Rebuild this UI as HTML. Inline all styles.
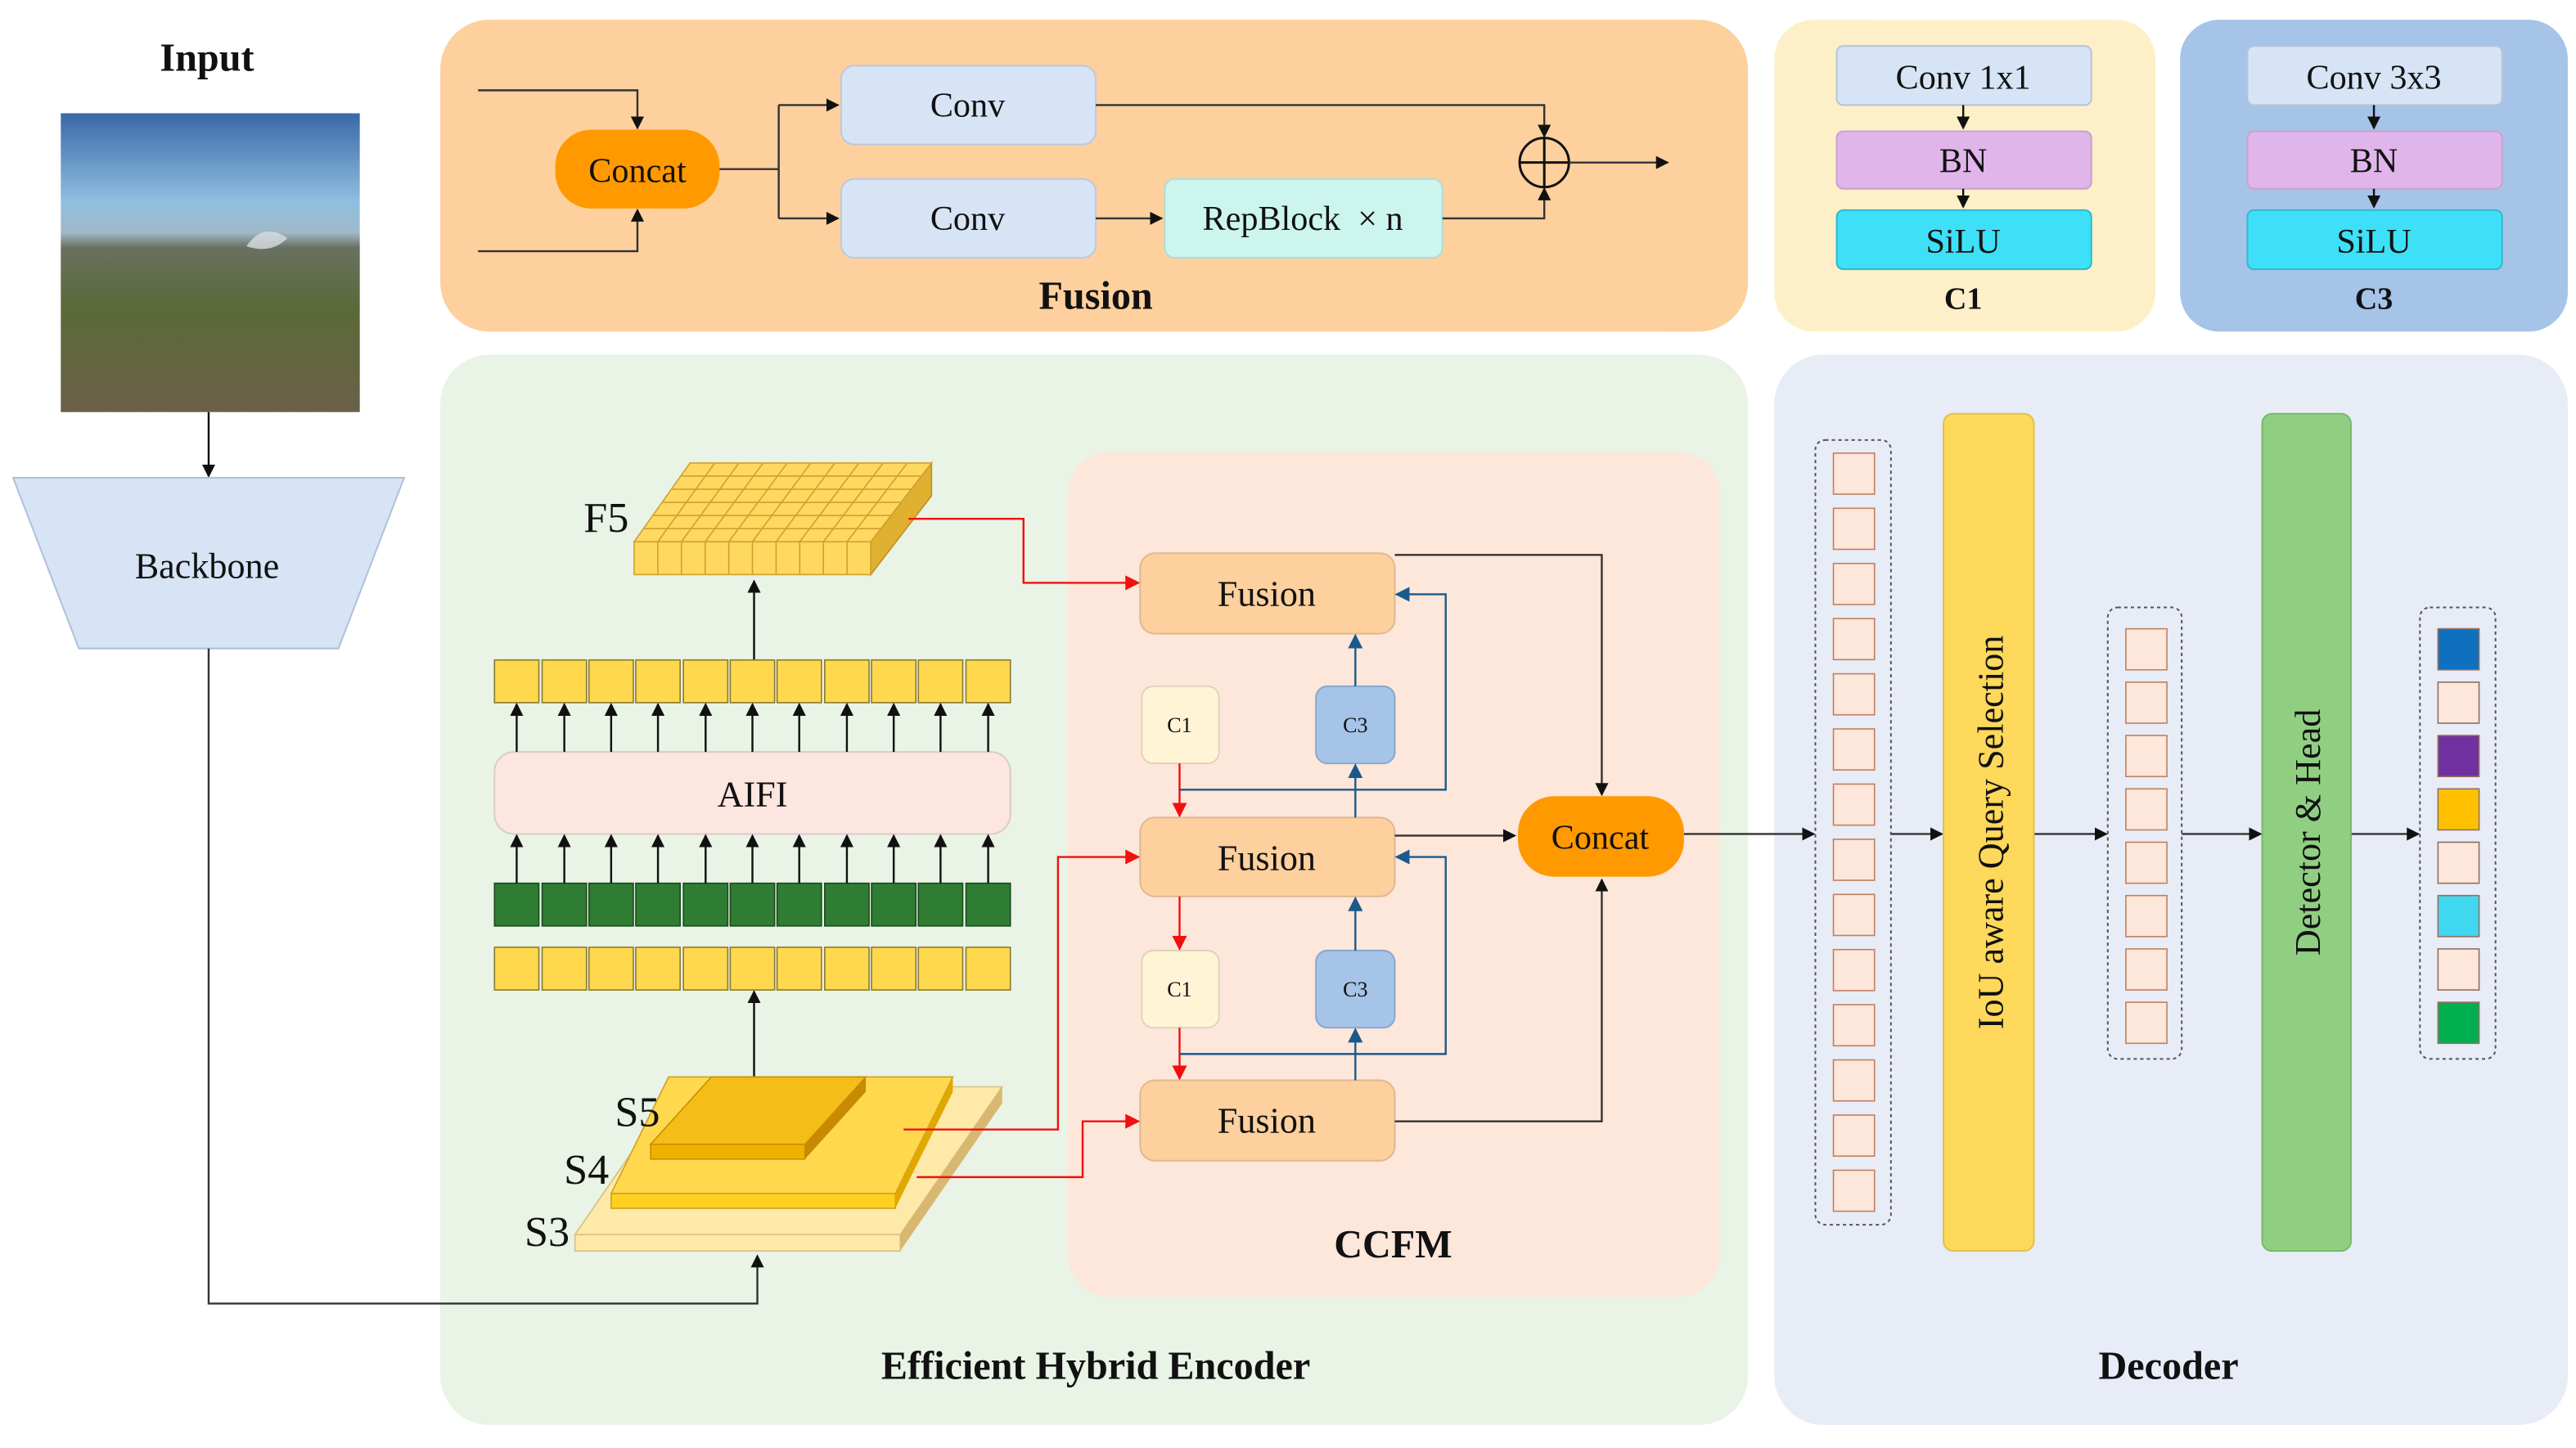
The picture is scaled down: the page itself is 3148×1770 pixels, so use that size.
<!DOCTYPE html>
<html><head><meta charset="utf-8"><style>html,body{margin:0;padding:0;background:#fff}svg{display:block}</style></head><body>
<svg width="3148" height="1770" viewBox="0 0 1568 882" preserveAspectRatio="none" xmlns="http://www.w3.org/2000/svg" font-family="'Liberation Serif', 'Times New Roman', serif" fill="#111">
<defs>
<marker id="ak" markerWidth="8" markerHeight="8" refX="7" refY="4" orient="auto" markerUnits="userSpaceOnUse"><path d="M0,0 L8,4 L0,8z" fill="#111"/></marker>
<marker id="ar" markerWidth="9" markerHeight="9" refX="8" refY="4.5" orient="auto" markerUnits="userSpaceOnUse"><path d="M0,0 L9,4.5 L0,9z" fill="#f01010"/></marker>
<marker id="ab" markerWidth="9" markerHeight="9" refX="8" refY="4.5" orient="auto" markerUnits="userSpaceOnUse"><path d="M0,0 L9,4.5 L0,9z" fill="#1a5a8a"/></marker>
<linearGradient id="img" x1="0" y1="0" x2="0" y2="1"><stop offset="0" stop-color="#3a68a8"/><stop offset="0.3" stop-color="#8fc0e0"/><stop offset="0.4" stop-color="#a0b8c8"/><stop offset="0.45" stop-color="#6a7060"/><stop offset="0.65" stop-color="#5a6a38"/><stop offset="1" stop-color="#6a6048"/></linearGradient>
</defs>
<rect x="268" y="12" width="796" height="190" rx="30" fill="#fdd09e"/>
<rect x="1080" y="12" width="232" height="190" rx="24" fill="#fdf0c8"/>
<rect x="1327" y="12" width="236" height="190" rx="24" fill="#a6c3e8"/>
<rect x="268" y="216" width="796" height="652" rx="30" fill="#e9f3e6"/>
<rect x="650" y="275" width="397" height="515" rx="26" fill="#fde6da"/>
<rect x="1080" y="216" width="483" height="652" rx="30" fill="#e8ecf6"/>
<text x="126" y="43" font-size="24" font-weight="bold" text-anchor="middle">Input</text>
<rect x="37" y="69" width="182" height="182" fill="url(#img)"/>
<path d="M150,150 q10,-15 25,-5 q-10,10 -25,5z" fill="#d8dde0" opacity="0.8"/>
<path d="M127,251 V290" stroke="#111" stroke-width="1.2" marker-end="url(#ak)"/>
<polygon points="8,291 246,291 206,395 48,395" fill="#d6e4f5" stroke="#b0c0d8"/>
<text x="126" y="352" font-size="22" text-anchor="middle">Backbone</text>
<path d="M127,395 V794 H461 V765" fill="none" stroke="#333" stroke-width="1.2" marker-end="url(#ak)"/>
<path d="M291,55 H388 V78" fill="none" stroke="#333" stroke-width="1.2" marker-end="url(#ak)"/>
<path d="M291,153 H388 V128" fill="none" stroke="#333" stroke-width="1.2" marker-end="url(#ak)"/>
<rect x="338" y="79" width="100" height="48" rx="22" fill="#ff9900"/>
<text x="388" y="111" font-size="21" text-anchor="middle">Concat</text>
<path d="M438,103 H474 M474,64 V133" stroke="#333" stroke-width="1.2"/>
<path d="M474,64 H510" stroke="#333" stroke-width="1.2" marker-end="url(#ak)"/>
<path d="M474,133 H510" stroke="#333" stroke-width="1.2" marker-end="url(#ak)"/>
<rect x="512" y="40" width="155" height="48" rx="8" fill="#d6e4f5" stroke="#bcc8dc"/>
<rect x="512" y="109" width="155" height="48" rx="8" fill="#d6e4f5" stroke="#bcc8dc"/>
<text x="589" y="71" font-size="21" text-anchor="middle">Conv</text>
<text x="589" y="140" font-size="21" text-anchor="middle">Conv</text>
<path d="M667,133 H707" stroke="#333" stroke-width="1.2" marker-end="url(#ak)"/>
<rect x="709" y="109" width="169" height="48" rx="6" fill="#ccf5ee" stroke="#b0dcd4"/>
<text x="793" y="140" font-size="21" text-anchor="middle">RepBlock &#160;× n</text>
<path d="M667,64 H940 V83" fill="none" stroke="#333" stroke-width="1.2" marker-end="url(#ak)"/>
<path d="M878,133 H940 V115" fill="none" stroke="#333" stroke-width="1.2" marker-end="url(#ak)"/>
<circle cx="940" cy="99" r="15" fill="none" stroke="#111" stroke-width="1.5"/>
<path d="M925,99 H955 M940,84 V114" stroke="#111" stroke-width="1.5"/>
<path d="M955,99 H1015" stroke="#333" stroke-width="1.2" marker-end="url(#ak)"/>
<text x="667" y="188" font-size="24" font-weight="bold" text-anchor="middle">Fusion</text>
<rect x="1118" y="28" width="155" height="36" rx="4" fill="#d6e4f5" stroke="#b8c4d8"/>
<rect x="1118" y="80" width="155" height="35" rx="4" fill="#e0b6ea" stroke="#c8a0d4"/>
<rect x="1118" y="128" width="155" height="36" rx="4" fill="#3ee0f7" stroke="#30b8d0"/>
<text x="1195" y="54" font-size="21" text-anchor="middle">Conv 1x1</text>
<text x="1195" y="105" font-size="21" text-anchor="middle">BN</text>
<text x="1195" y="154" font-size="21" text-anchor="middle">SiLU</text>
<path d="M1195,64 V78" stroke="#111" stroke-width="1.2" marker-end="url(#ak)"/>
<path d="M1195,115 V126" stroke="#111" stroke-width="1.2" marker-end="url(#ak)"/>
<text x="1195" y="188" font-size="19" font-weight="bold" text-anchor="middle">C1</text>
<rect x="1368" y="28" width="155" height="36" rx="4" fill="#d6e4f5" stroke="#b8c4d8"/>
<rect x="1368" y="80" width="155" height="35" rx="4" fill="#e0b6ea" stroke="#c8a0d4"/>
<rect x="1368" y="128" width="155" height="36" rx="4" fill="#3ee0f7" stroke="#30b8d0"/>
<text x="1445" y="54" font-size="21" text-anchor="middle">Conv 3x3</text>
<text x="1445" y="105" font-size="21" text-anchor="middle">BN</text>
<text x="1445" y="154" font-size="21" text-anchor="middle">SiLU</text>
<path d="M1445,64 V78" stroke="#111" stroke-width="1.2" marker-end="url(#ak)"/>
<path d="M1445,115 V126" stroke="#111" stroke-width="1.2" marker-end="url(#ak)"/>
<text x="1445" y="188" font-size="19" font-weight="bold" text-anchor="middle">C3</text>
<polygon points="530,330 567,282 567,302 530,350" fill="#e0b030" stroke="#c09020" stroke-width="0.8"/>
<polygon points="386,330 530,330 567,282 420,282" fill="#ffd860" stroke="#d0a030" stroke-width="0.8"/>
<rect x="386" y="330" width="144" height="20" fill="#ffd860" stroke="#d0a030" stroke-width="0.8"/>
<g stroke="#d0a030" stroke-width="0.8">
<path d="M400.4,330 V350 M414.8,330 V350 M429.2,330 V350 M443.6,330 V350 M458,330 V350 M472.4,330 V350 M486.8,330 V350 M501.2,330 V350 M515.6,330 V350"/>
<path d="M400.4,330 L435.1,282 M414.8,330 L449.8,282 M429.2,330 L464.5,282 M443.6,330 L479.2,282 M458,330 L493.5,282 M472.4,330 L508.2,282 M486.8,330 L522.9,282 M501.2,330 L537.6,282 M515.6,330 L552.3,282"/>
<path d="M392.2,322 H536.2 M397.8,314 H542.4 M403.3,306 H548.5 M409,298 H554.7 M414.6,290 H560.9"/>
</g>
<text x="369" y="324" font-size="26" text-anchor="middle">F5</text>
<path d="M459,402 V354" stroke="#111" stroke-width="1.2" marker-end="url(#ak)"/>
<g stroke="#8a7a30" stroke-width="0.8" fill="#ffd84e">
<rect x="301" y="402" width="27" height="26"/><rect x="330" y="402" width="27" height="26"/><rect x="358.5" y="402" width="27" height="26"/><rect x="387" y="402" width="27" height="26"/><rect x="416" y="402" width="27" height="26"/><rect x="444.5" y="402" width="27" height="26"/><rect x="473" y="402" width="27" height="26"/><rect x="502" y="402" width="27" height="26"/><rect x="530.5" y="402" width="27" height="26"/><rect x="559" y="402" width="27" height="26"/><rect x="588" y="402" width="27" height="26"/>
<rect x="301" y="577" width="27" height="26"/><rect x="330" y="577" width="27" height="26"/><rect x="358.5" y="577" width="27" height="26"/><rect x="387" y="577" width="27" height="26"/><rect x="416" y="577" width="27" height="26"/><rect x="444.5" y="577" width="27" height="26"/><rect x="473" y="577" width="27" height="26"/><rect x="502" y="577" width="27" height="26"/><rect x="530.5" y="577" width="27" height="26"/><rect x="559" y="577" width="27" height="26"/><rect x="588" y="577" width="27" height="26"/>
</g>
<g stroke="#1a4a1a" stroke-width="0.8" fill="#2e7d32">
<rect x="301" y="538" width="27" height="26"/><rect x="330" y="538" width="27" height="26"/><rect x="358.5" y="538" width="27" height="26"/><rect x="387" y="538" width="27" height="26"/><rect x="416" y="538" width="27" height="26"/><rect x="444.5" y="538" width="27" height="26"/><rect x="473" y="538" width="27" height="26"/><rect x="502" y="538" width="27" height="26"/><rect x="530.5" y="538" width="27" height="26"/><rect x="559" y="538" width="27" height="26"/><rect x="588" y="538" width="27" height="26"/>
</g>
<rect x="301" y="458" width="314" height="50" rx="12" fill="#fde6e0" stroke="#d8ccc8"/>
<text x="458" y="491" font-size="22" text-anchor="middle">AIFI</text>
<g stroke="#111" stroke-width="1.2" marker-end="url(#ak)">
<path d="M314.5,458 V429"/><path d="M343.5,458 V429"/><path d="M372,458 V429"/><path d="M400.5,458 V429"/><path d="M429.5,458 V429"/><path d="M458,458 V429"/><path d="M486.5,458 V429"/><path d="M515.5,458 V429"/><path d="M544,458 V429"/><path d="M572.5,458 V429"/><path d="M601.5,458 V429"/>
<path d="M314.5,538 V509"/><path d="M343.5,538 V509"/><path d="M372,538 V509"/><path d="M400.5,538 V509"/><path d="M429.5,538 V509"/><path d="M458,538 V509"/><path d="M486.5,538 V509"/><path d="M515.5,538 V509"/><path d="M544,538 V509"/><path d="M572.5,538 V509"/><path d="M601.5,538 V509"/>
<path d="M459,672 V604"/>
</g>
<polygon points="350,752 548,752 610,662 412,662" fill="#ffe9a8" stroke="#d8c080" stroke-width="0.8"/>
<polygon points="350,752 548,752 548,762 350,762" fill="#ffe9a8" stroke="#d8c080" stroke-width="0.8"/>
<polygon points="548,752 610,662 610,672 548,762" fill="#d8b870"/>
<polygon points="372,727 545,727 580,656 407,656" fill="#ffd84e" stroke="#d0a020" stroke-width="0.8"/>
<rect x="372" y="727" width="173" height="9" fill="#ffd020" stroke="#d0a020" stroke-width="0.8"/>
<polygon points="545,727 580,656 580,665 545,736" fill="#e0a800"/>
<polygon points="396,697 490,697 527,656 433,656" fill="#f5bd18" stroke="#c89000" stroke-width="0.8"/>
<rect x="396" y="697" width="94" height="9" fill="#f0b000" stroke="#c89000" stroke-width="0.8"/>
<polygon points="490,697 527,656 527,665 490,706" fill="#c88a00"/>
<text x="388" y="686" font-size="26" text-anchor="middle">S5</text>
<text x="357" y="721" font-size="26" text-anchor="middle">S4</text>
<text x="333" y="759" font-size="26" text-anchor="middle">S3</text>
<g fill="#fdd09e" stroke="#e0b890">
<rect x="694" y="337" width="155" height="49" rx="9"/><rect x="694" y="498" width="155" height="48" rx="9"/><rect x="694" y="658" width="155" height="49" rx="9"/>
</g>
<text x="771" y="369" font-size="22" text-anchor="middle">Fusion</text>
<text x="771" y="530" font-size="22" text-anchor="middle">Fusion</text>
<text x="771" y="690" font-size="22" text-anchor="middle">Fusion</text>
<rect x="695" y="418" width="47" height="47" rx="7" fill="#fff4d6" stroke="#e0d4b8"/>
<rect x="695" y="579" width="47" height="47" rx="7" fill="#fff4d6" stroke="#e0d4b8"/>
<rect x="801" y="418" width="48" height="47" rx="7" fill="#a6c3e8" stroke="#8aa8d0"/>
<rect x="801" y="579" width="48" height="47" rx="7" fill="#a6c3e8" stroke="#8aa8d0"/>
<text x="718" y="446" font-size="13" text-anchor="middle">C1</text>
<text x="718" y="607" font-size="13" text-anchor="middle">C1</text>
<text x="825" y="446" font-size="13" text-anchor="middle">C3</text>
<text x="825" y="607" font-size="13" text-anchor="middle">C3</text>
<g fill="none" stroke="#f01010" stroke-width="1.2" marker-end="url(#ar)">
<path d="M553,316 H623 V355 H693"/>
<path d="M550,688 H644 V522 H693"/>
<path d="M558,717 H659 V683 H693"/>
<path d="M718,465 V497"/><path d="M718,546 V578"/><path d="M718,626 V657"/>
</g>
<g fill="none" stroke="#1a5a8a" stroke-width="1.2" marker-end="url(#ab)">
<path d="M825,418 V387"/><path d="M825,498 V466"/><path d="M825,579 V547"/><path d="M825,658 V627"/>
<path d="M718,481 H880 V362 H850"/>
<path d="M718,642 H880 V522 H850"/>
</g>
<g fill="none" stroke="#333" stroke-width="1.2" marker-end="url(#ak)">
<path d="M849,338 H975 V484"/>
<path d="M849,509 H922"/>
<path d="M849,683 H975 V536"/>
<path d="M1025,508 H1104"/>
<path d="M1151,508 H1182"/>
<path d="M1238,508 H1282"/>
<path d="M1328,508 H1376"/>
<path d="M1431,508 H1472"/>
</g>
<rect x="924" y="485" width="101" height="49" rx="22" fill="#ff9900"/>
<text x="974" y="517" font-size="21" text-anchor="middle">Concat</text>
<text x="848" y="766" font-size="24" font-weight="bold" text-anchor="middle">CCFM</text>
<text x="667" y="840" font-size="24" font-weight="bold" text-anchor="middle">Efficient Hybrid Encoder</text>
<rect x="1105" y="268" width="46" height="478" rx="6" fill="none" stroke="#555" stroke-dasharray="2,2"/>
<g fill="#fde6da" stroke="#c08060" stroke-width="0.8">
<rect x="1116" y="276" width="25" height="25"/><rect x="1116" y="309.6" width="25" height="25"/><rect x="1116" y="343.2" width="25" height="25"/><rect x="1116" y="376.8" width="25" height="25"/><rect x="1116" y="410.4" width="25" height="25"/><rect x="1116" y="444" width="25" height="25"/><rect x="1116" y="477.6" width="25" height="25"/><rect x="1116" y="511.2" width="25" height="25"/><rect x="1116" y="544.8" width="25" height="25"/><rect x="1116" y="578.4" width="25" height="25"/><rect x="1116" y="612" width="25" height="25"/><rect x="1116" y="645.6" width="25" height="25"/><rect x="1116" y="679.2" width="25" height="25"/><rect x="1116" y="712.8" width="25" height="25"/>
</g>
<rect x="1183" y="252" width="55" height="510" rx="6" fill="#fdd85a" stroke="#e0c050"/>
<text transform="translate(1219,507) rotate(-90)" font-size="22" text-anchor="middle">IoU aware Query Selection</text>
<rect x="1283" y="370" width="45" height="275" rx="6" fill="none" stroke="#555" stroke-dasharray="2,2"/>
<g fill="#fde6da" stroke="#c08060" stroke-width="0.8">
<rect x="1294" y="383" width="25" height="25"/><rect x="1294" y="415.5" width="25" height="25"/><rect x="1294" y="448" width="25" height="25"/><rect x="1294" y="480.5" width="25" height="25"/><rect x="1294" y="513" width="25" height="25"/><rect x="1294" y="545.5" width="25" height="25"/><rect x="1294" y="578" width="25" height="25"/><rect x="1294" y="610.5" width="25" height="25"/>
</g>
<rect x="1377" y="252" width="54" height="510" rx="6" fill="#90cf82" stroke="#78b86a"/>
<text transform="translate(1412,507) rotate(-90)" font-size="22" text-anchor="middle">Detector &amp; Head</text>
<rect x="1473" y="370" width="46" height="275" rx="6" fill="none" stroke="#555" stroke-dasharray="2,2"/>
<g stroke="#907060" stroke-width="0.8">
<rect x="1484" y="383" width="25" height="25" fill="#1070c0"/><rect x="1484" y="415.5" width="25" height="25" fill="#fde6da"/><rect x="1484" y="448" width="25" height="25" fill="#7030a0"/><rect x="1484" y="480.5" width="25" height="25" fill="#ffc000"/><rect x="1484" y="513" width="25" height="25" fill="#fde6da"/><rect x="1484" y="545.5" width="25" height="25" fill="#40d8f0"/><rect x="1484" y="578" width="25" height="25" fill="#fde6da"/><rect x="1484" y="610.5" width="25" height="25" fill="#00b050"/>
</g>
<text x="1320" y="840" font-size="24" font-weight="bold" text-anchor="middle">Decoder</text>
</svg>
</body></html>
